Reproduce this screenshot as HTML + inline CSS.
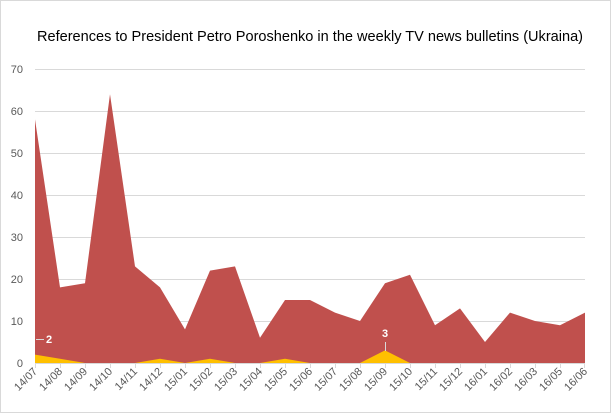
<!DOCTYPE html>
<html><head><meta charset="utf-8"><style>
html,body{margin:0;padding:0;background:#fff;}
svg{display:block;font-family:"Liberation Sans",Arial,sans-serif;}
</style></head><body>
<svg width="611" height="413" viewBox="0 0 611 413" xmlns="http://www.w3.org/2000/svg">
<rect x="0.5" y="0.5" width="610" height="412" fill="#fff" stroke="#d9d9d9"/>
<text x="37" y="41" font-size="14.5" fill="#000" textLength="546" lengthAdjust="spacingAndGlyphs">References to President Petro Poroshenko in the weekly TV news bulletins (Ukraina)</text>
<g stroke="#d9d9d9" stroke-width="1">
<line x1="35" y1="69.5" x2="585" y2="69.5"/>
<line x1="35" y1="111.5" x2="585" y2="111.5"/>
<line x1="35" y1="153.5" x2="585" y2="153.5"/>
<line x1="35" y1="195.5" x2="585" y2="195.5"/>
<line x1="35" y1="237.5" x2="585" y2="237.5"/>
<line x1="35" y1="279.5" x2="585" y2="279.5"/>
<line x1="35" y1="321.5" x2="585" y2="321.5"/>
</g>
<g font-size="11" fill="#595959" text-anchor="end">
<text x="23" y="73">70</text><text x="23" y="115">60</text><text x="23" y="157">50</text>
<text x="23" y="199">40</text><text x="23" y="241">30</text><text x="23" y="283">20</text>
<text x="23" y="325">10</text><text x="23" y="367">0</text>
</g>
<polygon fill="#c0504d" points="35,363 35,119.4 60,287.4 85,283.2 110,94.2 135,266.4 160,287.4 185,329.4 210,270.6 235,266.4 260,337.8 285,300 310,300 335,312.6 360,321 385,283.2 410,274.8 435,325.2 460,308.4 485,342 510,312.6 535,321 560,325.2 585,312.6 585,363"/>
<polygon fill="#ffc000" points="35,363 35,354.6 60,358.8 85,363 135,363 160,358.8 185,363 210,358.8 235,363 260,363 285,358.8 310,363 360,363 385,350.4 410,363"/>
<line x1="35" y1="363.5" x2="585" y2="363.5" stroke="#d9d9d9"/>
<g stroke="#d9d9d9">
<line x1="35.5" y1="363" x2="35.5" y2="368"/>
<line x1="60.5" y1="363" x2="60.5" y2="368"/><line x1="85.5" y1="363" x2="85.5" y2="368"/>
<line x1="110.5" y1="363" x2="110.5" y2="368"/><line x1="135.5" y1="363" x2="135.5" y2="368"/>
<line x1="160.5" y1="363" x2="160.5" y2="368"/><line x1="185.5" y1="363" x2="185.5" y2="368"/>
<line x1="210.5" y1="363" x2="210.5" y2="368"/><line x1="235.5" y1="363" x2="235.5" y2="368"/>
<line x1="260.5" y1="363" x2="260.5" y2="368"/><line x1="285.5" y1="363" x2="285.5" y2="368"/>
<line x1="310.5" y1="363" x2="310.5" y2="368"/><line x1="335.5" y1="363" x2="335.5" y2="368"/>
<line x1="360.5" y1="363" x2="360.5" y2="368"/><line x1="385.5" y1="363" x2="385.5" y2="368"/>
<line x1="410.5" y1="363" x2="410.5" y2="368"/><line x1="435.5" y1="363" x2="435.5" y2="368"/>
<line x1="460.5" y1="363" x2="460.5" y2="368"/><line x1="485.5" y1="363" x2="485.5" y2="368"/>
<line x1="510.5" y1="363" x2="510.5" y2="368"/><line x1="535.5" y1="363" x2="535.5" y2="368"/>
<line x1="560.5" y1="363" x2="560.5" y2="368"/><line x1="584.5" y1="363" x2="584.5" y2="368"/>
</g>
<g stroke="#d9d9d9" fill="none"><polyline points="36,339.5 44,339.5"/><line x1="385.5" y1="342" x2="385.5" y2="351"/></g>
<g font-size="11" font-weight="bold" fill="#fff">
<text x="46" y="343">2</text><text x="382" y="337">3</text>
</g>
<g font-size="11" fill="#595959" text-anchor="end">
<text transform="translate(38,372) rotate(-45)">14/07</text>
<text transform="translate(63,372) rotate(-45)">14/08</text>
<text transform="translate(88,372) rotate(-45)">14/09</text>
<text transform="translate(113,372) rotate(-45)">14/10</text>
<text transform="translate(138,372) rotate(-45)">14/11</text>
<text transform="translate(163,372) rotate(-45)">14/12</text>
<text transform="translate(188,372) rotate(-45)">15/01</text>
<text transform="translate(213,372) rotate(-45)">15/02</text>
<text transform="translate(238,372) rotate(-45)">15/03</text>
<text transform="translate(263,372) rotate(-45)">15/04</text>
<text transform="translate(288,372) rotate(-45)">15/05</text>
<text transform="translate(313,372) rotate(-45)">15/06</text>
<text transform="translate(338,372) rotate(-45)">15/07</text>
<text transform="translate(363,372) rotate(-45)">15/08</text>
<text transform="translate(388,372) rotate(-45)">15/09</text>
<text transform="translate(413,372) rotate(-45)">15/10</text>
<text transform="translate(438,372) rotate(-45)">15/11</text>
<text transform="translate(463,372) rotate(-45)">15/12</text>
<text transform="translate(488,372) rotate(-45)">16/01</text>
<text transform="translate(513,372) rotate(-45)">16/02</text>
<text transform="translate(538,372) rotate(-45)">16/03</text>
<text transform="translate(563,372) rotate(-45)">16/05</text>
<text transform="translate(588,372) rotate(-45)">16/06</text>
</g>
</svg>
</body></html>
